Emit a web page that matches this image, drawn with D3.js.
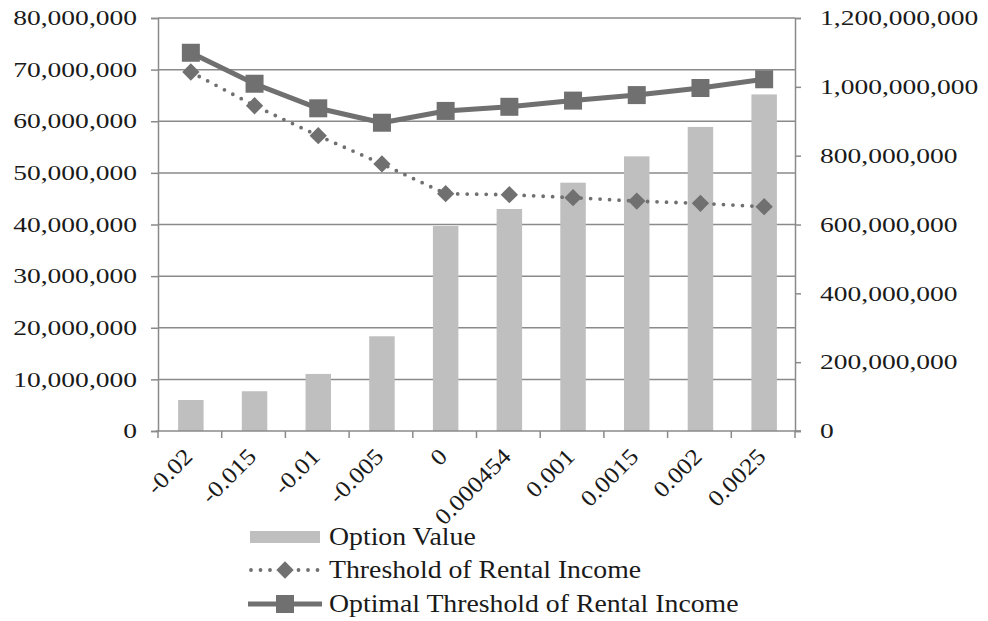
<!DOCTYPE html>
<html>
<head>
<meta charset="utf-8">
<script src="https://cdn.jsdelivr.net/npm/d3@7"></script>
<style>
  html, body { margin: 0; padding: 0; background: #fff; }
  svg { display: block; }
  text { font-family: "Liberation Serif", "Times New Roman", serif; fill: #1a1a1a; }
</style>
</head>
<body>
<svg id="chart" width="988" height="621"></svg>
<script>
// Growth-rate scenarios on the horizontal axis
const categories = ["-0.02", "-0.015", "-0.01", "-0.005", "0", "0.000454", "0.001", "0.0015", "0.002", "0.0025"];
// Option value (left axis)
const optionValue = [6.0e6, 7.7e6, 11.05e6, 18.35e6, 39.7e6, 43.0e6, 48.1e6, 53.2e6, 58.9e6, 65.2e6];
// Threshold of rental income (right axis)
const threshold = [1.043e9, 0.945e9, 0.858e9, 0.776e9, 0.6895e9, 0.6866e9, 0.678e9, 0.668e9, 0.6615e9, 0.6517e9];
// Optimal threshold of rental income (right axis)
const optimalThreshold = [1.099e9, 1.009e9, 0.9376e9, 0.8957e9, 0.930e9, 0.942e9, 0.960e9, 0.976e9, 0.9966e9, 1.022e9];
// Axis ticks
const leftTicks = [0, 10e6, 20e6, 30e6, 40e6, 50e6, 60e6, 70e6, 80e6];
const rightTicks = [0, 200e6, 400e6, 600e6, 800e6, 1000e6, 1200e6];
const legendLabels = ["Option Value", "Threshold of Rental Income", "Optimal Threshold of Rental Income"];

const svg = d3.select("#chart");
const plot = { left: 158, right: 795, top: 18, bottom: 431 };
const barColor = "#bfbfbf", lineColor = "#707070", gridColor = "#8a8a8a";
const fmt = d3.format(",");

const x = d3.scaleBand().domain(categories).range([plot.left, plot.right]).paddingInner(0).paddingOuter(0);
const yL = d3.scaleLinear().domain([0, 80e6]).range([plot.bottom, plot.top]);
const yR = d3.scaleLinear().domain([0, 1.2e9]).range([plot.bottom, plot.top]);
const cx = c => x(c) + x.bandwidth() / 2 + 1;

// widen glyphs horizontally by a factor
function stretch(sel, k) {
  sel.each(function () {
    const w = this.getComputedTextLength();
    d3.select(this).attr("textLength", w * k).attr("lengthAdjust", "spacingAndGlyphs");
  });
}

// horizontal gridlines
svg.append("g").selectAll("line").data(leftTicks.slice(1)).join("line")
  .attr("x1", plot.left).attr("x2", plot.right)
  .attr("y1", d => yL(d)).attr("y2", d => yL(d))
  .attr("stroke", gridColor).attr("stroke-width", 1.5);

// bars
const bw = x.bandwidth() / 2.5;
svg.append("g").selectAll("rect").data(optionValue).join("rect")
  .attr("x", (d, i) => cx(categories[i]) - bw / 2)
  .attr("width", bw)
  .attr("y", d => yL(d))
  .attr("height", d => yL(0) - yL(d))
  .attr("fill", barColor);

// left axis
const gL = svg.append("g").attr("transform", `translate(${plot.left},0)`)
  .call(d3.axisLeft(yL).tickValues(leftTicks).tickFormat(fmt).tickSize(7).tickPadding(14));
// right axis
const gR = svg.append("g").attr("transform", `translate(${plot.right},0)`)
  .call(d3.axisRight(yR).tickValues(rightTicks).tickFormat(fmt).tickSize(6).tickPadding(19));
[gL, gR].forEach(g => {
  g.select(".domain").attr("stroke", gridColor).attr("stroke-width", 1.5);
  g.selectAll(".tick line").attr("stroke", gridColor).attr("stroke-width", 1.5);
  g.selectAll(".tick text").attr("font-size", 21).attr("font-family", "Liberation Serif").attr("fill", "#1a1a1a").call(stretch, 1.31);
});

// bottom axis: baseline, boundary ticks, rotated labels
const gB = svg.append("g");
gB.append("line").attr("x1", plot.left - 2).attr("x2", plot.right + 6)
  .attr("y1", plot.bottom).attr("y2", plot.bottom)
  .attr("stroke", gridColor).attr("stroke-width", 1.5);
const bounds = categories.map(c => x(c)).concat([plot.right]);
gB.selectAll("line.tk").data(bounds).join("line").attr("class", "tk")
  .attr("x1", d => d).attr("x2", d => d)
  .attr("y1", plot.bottom).attr("y2", plot.bottom + 7)
  .attr("stroke", gridColor).attr("stroke-width", 1.5);
gB.selectAll("text").data(categories).join("text")
  .attr("transform", c => `translate(${cx(c) + 3},${plot.bottom + 27}) rotate(-45)`)
  .attr("text-anchor", "end")
  .attr("font-size", 23)
  .text(c => c)
  .call(stretch, 1.12);

// threshold line (dotted) with diamond markers
const lineR = d3.line().x((d, i) => cx(categories[i])).y(d => yR(d));
svg.append("path").datum(threshold).attr("d", lineR)
  .attr("fill", "none").attr("stroke", lineColor).attr("stroke-width", 3.8)
  .attr("stroke-linecap", "round").attr("stroke-dasharray", "0 9.5");
const diamond = d3.symbol().type(d3.symbolSquare).size(150);
svg.append("g").selectAll("path").data(threshold).join("path")
  .attr("d", diamond)
  .attr("transform", (d, i) => `translate(${cx(categories[i])},${yR(d)}) rotate(45)`)
  .attr("fill", lineColor);

// optimal threshold line (solid) with square markers
svg.append("path").datum(optimalThreshold).attr("d", lineR)
  .attr("fill", "none").attr("stroke", lineColor).attr("stroke-width", 5)
  .attr("stroke-linejoin", "round");
svg.append("g").selectAll("rect").data(optimalThreshold).join("rect")
  .attr("x", (d, i) => cx(categories[i]) - 9).attr("y", d => yR(d) - 9)
  .attr("width", 18).attr("height", 18).attr("fill", lineColor);

// legend
const lg = svg.append("g").attr("transform", "translate(248,0)");
const rows = [537, 570, 604];
lg.append("rect").attr("x", 2).attr("y", rows[0] - 6).attr("width", 70).attr("height", 12).attr("fill", barColor);
lg.append("line").attr("x1", 3).attr("x2", 72).attr("y1", rows[1]).attr("y2", rows[1])
  .attr("stroke", lineColor).attr("stroke-width", 3.8).attr("stroke-linecap", "round").attr("stroke-dasharray", "0 9.5");
lg.append("path").attr("d", diamond).attr("transform", `translate(37,${rows[1]}) rotate(45)`).attr("fill", lineColor);
lg.append("line").attr("x1", 0).attr("x2", 74).attr("y1", rows[2]).attr("y2", rows[2])
  .attr("stroke", lineColor).attr("stroke-width", 5);
lg.append("rect").attr("x", 28).attr("y", rows[2] - 9).attr("width", 18).attr("height", 18).attr("fill", lineColor);
lg.selectAll("text").data(legendLabels).join("text")
  .attr("x", 81).attr("y", (d, i) => rows[i] + 8)
  .attr("font-size", 25)
  .text(d => d)
  .call(stretch, 1.11);
</script>
</body>
</html>
